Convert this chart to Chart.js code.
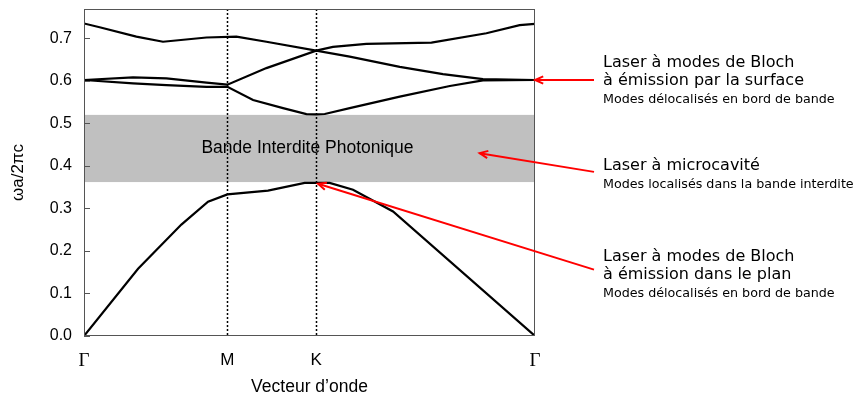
<!DOCTYPE html>
<html>
<head>
<meta charset="utf-8">
<script src="https://cdn.jsdelivr.net/npm/chart.js@4/dist/chart.umd.min.js"></script>
<style>
  html, body { margin: 0; padding: 0; background: #fff; }
  canvas { display: block; }
</style>
</head>
<body>
<canvas id="bands" width="855" height="396"></canvas>
<script>
// Path through the Brillouin zone: Γ → M → K → Γ (distance measured with Γ–M = 1)
const symmetryPoints = [0, 1, 1.619, 3.145];
const symmetryLabels = ['Γ', 'M', 'K', 'Γ'];
const freqTicks = [0, 0.1, 0.2, 0.3, 0.4, 0.5, 0.6, 0.7];

// Photonic bands, [k, ωa/2πc]
const band1 = [[0, 0], [0.377, 0.158], [0.679, 0.262], [0.865, 0.316], [1, 0.333], [1.283, 0.342],
               [1.539, 0.360], [1.619, 0.360], [1.713, 0.360], [1.876, 0.344], [2.155, 0.293], [3.145, 0]];
const band2 = [[0, 0.602], [0.342, 0.594], [0.575, 0.590], [0.854, 0.586], [1, 0.586], [1.179, 0.555],
               [1.388, 0.536], [1.551, 0.522], [1.619, 0.521], [1.679, 0.522], [1.853, 0.536], [2.202, 0.563],
               [2.551, 0.588], [2.782, 0.601], [3.145, 0.602]];
const band3 = [[0, 0.602], [0.342, 0.608], [0.575, 0.606], [0.854, 0.596], [1, 0.591], [1.272, 0.630],
               [1.619, 0.671], [1.853, 0.657], [2.202, 0.633], [2.503, 0.616], [2.782, 0.604], [3.145, 0.602]];
const band4 = [[0, 0.735], [0.109, 0.726], [0.365, 0.704], [0.551, 0.692], [0.854, 0.702], [1.063, 0.704],
               [1.272, 0.692], [1.619, 0.671], [1.736, 0.680], [1.969, 0.687], [2.423, 0.690], [2.806, 0.712],
               [3.038, 0.731], [3.145, 0.734]];

// Photonic band gap
const gapBottom = 0.362;
const gapTop = 0.520;
const gapLabel = 'Bande Interdite Photonique';

// Callouts: arrow target [k, ω], arrow tail height ω, first text baseline ω, text lines
const callouts = [
  { target: [3.145, 0.602], tail: 0.602, textTop: 0.633,
    lines: ['Laser à modes de Bloch', 'à émission par la surface', 'Modes délocalisés en bord de bande'] },
  { target: [2.759, 0.430], tail: 0.386, textTop: 0.390,
    lines: ['Laser à microcavité', 'Modes localisés dans la bande interdite'] },
  { target: [1.632, 0.358], tail: 0.156, textTop: 0.177,
    lines: ['Laser à modes de Bloch', 'à émission dans le plan', 'Modes délocalisés en bord de bande'] }
];

const toXY = arr => arr.map(([x, y]) => ({ x, y }));
const bandStyle = { borderColor: '#000', borderWidth: 2.2, pointRadius: 0, tension: 0, fill: false };

const gapPlugin = {
  id: 'gapAndSymmetryLines',
  beforeDatasetsDraw(chart) {
    const { ctx, chartArea: a, scales: { x, y } } = chart;
    const yT = y.getPixelForValue(gapTop), yB = y.getPixelForValue(gapBottom);
    ctx.save();
    ctx.fillStyle = '#c0c0c0';
    ctx.fillRect(a.left, yT, a.right - a.left, yB - yT);
    ctx.fillStyle = '#000';
    ctx.font = '17.5px "Liberation Sans", Arial, sans-serif';
    ctx.textAlign = 'center';
    ctx.textBaseline = 'middle';
    ctx.fillText(gapLabel, (a.left + a.right) / 2 - 2, (yT + yB) / 2);
    // dotted lines at the inner symmetry points
    ctx.strokeStyle = '#000';
    ctx.lineWidth = 1.5;
    ctx.setLineDash([2, 2]);
    symmetryPoints.slice(1, -1).forEach(v => {
      const px = Math.round(x.getPixelForValue(v)) + 0.5;
      ctx.beginPath();
      ctx.moveTo(px, a.top);
      ctx.lineTo(px, a.bottom);
      ctx.stroke();
    });
    ctx.restore();
  },
  afterDraw(chart) {
    const { ctx, chartArea: a, scales: { x, y } } = chart;
    ctx.save();
    // frame
    ctx.strokeStyle = '#555';
    ctx.lineWidth = 1;
    ctx.strokeRect(a.left + 0.5, a.top + 0.5, a.right - a.left - 1, a.bottom - a.top - 1);
    // inward tick marks on the frequency axis
    freqTicks.forEach(v => {
      const py = Math.round(y.getPixelForValue(v)) + 0.5;
      ctx.beginPath();
      ctx.moveTo(a.left, py);
      ctx.lineTo(a.left + 6, py);
      ctx.stroke();
    });
    // callout arrows and texts
    const tailX = a.right + 59;
    const textX = a.right + 68;
    callouts.forEach(c => {
      const tx = x.getPixelForValue(c.target[0]);
      const ty = y.getPixelForValue(c.target[1]);
      const sy = y.getPixelForValue(c.tail);
      ctx.strokeStyle = '#ff0000';
      ctx.lineWidth = 2;
      ctx.beginPath();
      ctx.moveTo(tailX, sy);
      ctx.lineTo(tx, ty);
      ctx.stroke();
      const ang = Math.atan2(sy - ty, tailX - tx);
      ctx.beginPath();
      ctx.moveTo(tx + 9 * Math.cos(ang + 0.42), ty + 9 * Math.sin(ang + 0.42));
      ctx.lineTo(tx, ty);
      ctx.lineTo(tx + 9 * Math.cos(ang - 0.42), ty + 9 * Math.sin(ang - 0.42));
      ctx.stroke();

      ctx.fillStyle = '#000';
      ctx.textAlign = 'left';
      ctx.textBaseline = 'alphabetic';
      let by = y.getPixelForValue(c.textTop);
      c.lines.forEach((line, i) => {
        const small = i === c.lines.length - 1;
        if (i > 0) by += small ? 18 : 18;
        ctx.font = small ? '12.7px "DejaVu Sans", sans-serif' : '16px "DejaVu Sans", sans-serif';
        ctx.fillText(line, textX, by);
      });
    });
    ctx.restore();
  }
};

new Chart(document.getElementById('bands'), {
  type: 'line',
  data: {
    datasets: [
      { data: toXY(band1), ...bandStyle },
      { data: toXY(band2), ...bandStyle },
      { data: toXY(band3), ...bandStyle },
      { data: toXY(band4), ...bandStyle }
    ]
  },
  options: {
    responsive: false,
    animation: false,
    events: [],
    layout: { padding: { top: 9, right: 320, left: 0, bottom: 0 } },
    plugins: { legend: { display: false }, tooltip: { enabled: false } },
    scales: {
      x: {
        type: 'linear',
        min: symmetryPoints[0],
        max: symmetryPoints[symmetryPoints.length - 1],
        grid: { display: false, drawTicks: false },
        border: { display: false },
        afterBuildTicks: s => { s.ticks = symmetryPoints.map(v => ({ value: v })); },
        afterFit: s => { s.height = 60; s.paddingLeft = 0; s.paddingRight = 0; },
        ticks: {
          autoSkip: false,
          maxRotation: 0,
          padding: 14,
          color: '#000',
          callback: (v, i) => symmetryLabels[i],
          font: ctx => (symmetryLabels[ctx.index] === 'Γ'
            ? { family: '"Liberation Serif", "Times New Roman", serif', size: 19 }
            : { family: '"Liberation Sans", Arial, sans-serif', size: 17 })
        },
        title: {
          display: true,
          text: 'Vecteur d’onde',
          color: '#000',
          font: { family: '"Liberation Sans", Arial, sans-serif', size: 17.5, lineHeight: 1 },
          padding: { top: 0, bottom: 0 }
        }
      },
      y: {
        type: 'linear',
        min: 0,
        max: 0.769,
        grid: { display: false, drawTicks: false },
        border: { display: false },
        afterBuildTicks: s => { s.ticks = freqTicks.map(v => ({ value: v })); },
        afterFit: s => { s.width = 84; s.paddingTop = 0; s.paddingBottom = 0; },
        ticks: {
          padding: 12,
          color: '#000',
          callback: v => v.toFixed(1),
          font: { family: '"Liberation Sans", Arial, sans-serif', size: 16 }
        },
        title: {
          display: true,
          text: 'ωa/2πc',
          color: '#000',
          font: { family: '"Liberation Sans", Arial, sans-serif', size: 17 },
          padding: { top: 8, bottom: 0 }
        }
      }
    }
  },
  plugins: [gapPlugin]
});
</script>
</body>
</html>
